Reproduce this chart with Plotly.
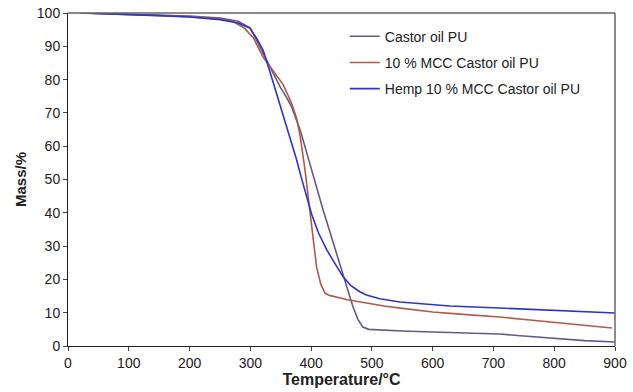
import plotly.graph_objects as go

# Castor oil PU
t_castor = [25, 100, 150, 200, 250, 280, 300, 316, 330, 349, 360, 368, 382, 392, 403, 410, 420, 431, 440, 453, 460, 469, 477, 485, 495, 513, 550, 600, 660, 710, 750, 800, 850, 900]
m_castor = [100, 99.7, 99.4, 99.1, 98.5, 97.5, 95.5, 89.8, 84.5, 77.8, 74.5, 71.8, 64.9, 58.5, 50.8, 46.6, 40.7, 34.2, 29, 21.3, 17, 11.7, 8, 5.7, 5.0, 4.8, 4.5, 4.2, 3.9, 3.6, 3.0, 2.3, 1.6, 1.2]

# 10 % MCC Castor oil PU
t_mcc = [25, 100, 150, 200, 250, 270, 290, 305, 321, 338, 354, 364, 370, 376, 382, 390, 398, 409, 416, 423, 430, 442, 460, 491, 520, 550, 600, 650, 710, 760, 820, 860, 895]
m_mcc = [100, 99.6, 99.3, 98.9, 98.2, 97.6, 95.5, 92.5, 86.8, 82.5, 78.5, 74.5, 71.8, 68.5, 63, 52.8, 40, 23.7, 18.5, 15.9, 15.2, 14.7, 13.9, 12.9, 12.0, 11.3, 10.2, 9.5, 8.7, 7.8, 6.7, 6.0, 5.4]

# Hemp 10 % MCC Castor oil PU
t_hemp = [20, 100, 150, 200, 250, 280, 299, 310, 321, 332, 343, 352, 360, 368, 376, 384, 393, 401, 412, 426, 440, 453, 465, 480, 491, 513, 546, 628, 710, 760, 820, 860, 900]
m_hemp = [100, 99.6, 99.2, 98.8, 98, 97, 95.5, 92.5, 88.9, 82.5, 76, 70.5, 65.8, 61, 56, 50.5, 44.5, 39.5, 34, 28.8, 24.5, 20.7, 18.2, 16.3, 15.3, 14.2, 13.2, 12.0, 11.4, 11.0, 10.6, 10.3, 9.9]

x_ticks = [0, 100, 200, 300, 400, 500, 600, 700, 800, 900]
y_ticks = [0, 10, 20, 30, 40, 50, 60, 70, 80, 90, 100]

FONT = "Liberation Sans, Arial, sans-serif"

fig = go.Figure()
fig.add_trace(go.Scatter(x=t_castor, y=m_castor, mode="lines", name="Castor oil PU",
                         line=dict(color="#66598A", width=1.6), legendgroup="a"))
fig.add_trace(go.Scatter(x=t_mcc, y=m_mcc, mode="lines", name="10 % MCC Castor oil PU",
                         line=dict(color="#B05A4A", width=1.6), legendgroup="b"))
fig.add_trace(go.Scatter(x=t_hemp, y=m_hemp, mode="lines", name="Hemp 10 % MCC Castor oil PU",
                         line=dict(color="#2C35C8", width=1.6), legendgroup="c"))

fig.update_layout(
    width=633, height=392,
    margin=dict(l=68, r=18, t=13, b=46),
    paper_bgcolor="white", plot_bgcolor="white",
    font=dict(family=FONT, size=14, color="#222"),
    legend=dict(x=0.506, y=0.977, xanchor="left", yanchor="top",
                bgcolor="rgba(0,0,0,0)", font=dict(size=14, color="#222"),
                tracegroupgap=5),
    xaxis=dict(range=[0, 900], tickvals=x_ticks, ticks="outside", ticklen=4,
               showline=True, linecolor="#222", linewidth=1, showgrid=False, zeroline=False,
               automargin=False,
               title=dict(text="<b>Temperature/°C</b>", font=dict(size=16), standoff=2),
               tickfont=dict(size=14)),
    yaxis=dict(range=[0, 100], tickvals=y_ticks, ticks="outside", ticklen=4,
               showline=True, linecolor="#222", linewidth=1, showgrid=False, zeroline=False,
               automargin=False,
               title=dict(text="<b>Mass/%</b>", font=dict(size=15), standoff=6),
               tickfont=dict(size=14)),
    shapes=[
        dict(type="line", xref="paper", yref="paper", x0=0, x1=1, y0=1, y1=1,
             line=dict(color="#666", width=1.5)),
        dict(type="line", xref="paper", yref="paper", x0=1, x1=1, y0=0, y1=1,
             line=dict(color="#666", width=1.5)),
    ],
)

fig.write_html("out.html")
